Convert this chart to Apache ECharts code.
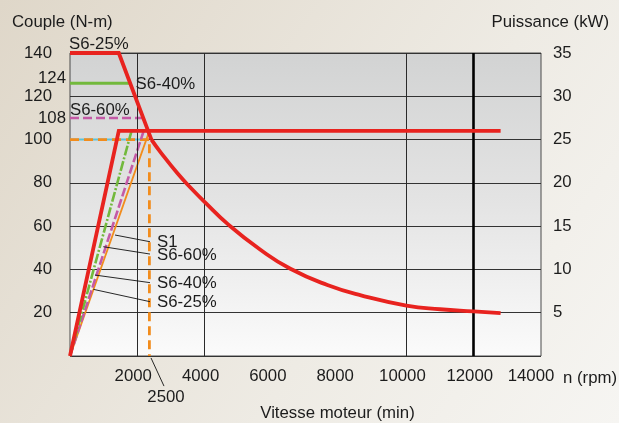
<!DOCTYPE html>
<html><head><meta charset="utf-8">
<script src="https://cdn.jsdelivr.net/npm/echarts@6/dist/echarts.min.js"></script>
<style>html,body{margin:0;padding:0;}#c{width:619px;height:423px;}</style>
</head><body><div id="c"></div>
<script>
// ---------- data ----------
const rpmTicks = [2000, 4000, 6000, 8000, 10000, 12000, 14000];
const torqueTicks = [20, 40, 60, 80, 100, 120, 140];
const powerTicks = [5, 10, 15, 20, 25, 30, 35];

// S6-25% torque: constant part + ramp, then the falling curve
const s625TorqueRpm = [0, 1450, 2420];
const s625TorqueNm  = [140, 140, 100];
const s625CurveRpm  = [2420, 2700, 3200, 3600, 4000, 4700, 5650, 6550, 7650, 8650, 10000, 11000, 12000, 12800];
const s625CurveNm   = [100, 94, 84.3, 77.5, 71.2, 60.8, 49.2, 40.3, 32.8, 28, 23.3, 21.6, 20.6, 19.8];
const s625PowerRpm = [0, 1450, 12800];
const s625PowerKw  = [0, 26, 26];

const s640TorqueRpm = [0, 1770];
const s640TorqueNm  = [126, 126];
const s640PowerRpm  = [0, 1830];
const s640PowerKw   = [0, 26];

const s660TorqueRpm = [0, 2160];
const s660TorqueNm  = [110, 110];
const s660PowerRpm  = [0, 2190];
const s660PowerKw   = [0, 26];

const s1TorqueRpm = [0, 2250];
const s1TorqueNm  = [100, 100];
const s1DashRpm   = [0, 2360, 2360];
const s1DashNm    = [100, 100, 0];
const s1PowerRpm  = [0, 2360];
const s1PowerKw   = [0, 26];

const gridRpm = [2000, 4000, 10000];
const boldGridRpm = [12000];

const leaderNames   = ['S1', 'S6-60%', 'S6-40%', 'S6-25%'];
const leaderFromRpm = [1338, 990, 743, 693];
const leaderFromNm  = [55.9, 50.5, 37.4, 30.8];
const leaderToRpm   = [2378, 2378, 2378, 2378];
const leaderToNm    = [52.8, 47.1, 33.9, 25.1];

const speedMarkLabel = '2500';
const speedMarkFrom = [2408, -0.9];
const speedMarkTo = [2794, -13.9];

const levelLabels = ['124', '108'];
const levelNm = [126, 110];

// ---------- chart ----------
const FONT = '"Liberation Sans", Arial, Helvetica, sans-serif';
const FS = 16.8;
const TXT = '#1c1c1c';
const RED = '#e8231f', GREEN = '#72b93c', MAG = '#c45aa6', ORANGE = '#f28c1c', CYAN = '#5cc2d8';
const zip = (a, b) => a.map((v, i) => [v, b[i]]);

const chart = echarts.init(document.getElementById('c'), null, {renderer: 'canvas'});

function lineSeries(name, data, color, width, type, yIdx, z) {
  return {
    name, type: 'line', data, yAxisIndex: yIdx || 0, symbol: 'none', silent: true,
    lineStyle: {color, width, type: type || 'solid', cap: 'butt', join: 'miter'}, z: z || 2, animation: false
  };
}

const curve = lineSeries('S6-25% couple courbe', zip(s625CurveRpm, s625CurveNm), RED, 3.8, 'solid', 0, 6);
curve.smooth = 0.5;
curve.lineStyle.join = 'round';

const series = [
  lineSeries('S1 couple', zip(s1TorqueRpm, s1TorqueNm), CYAN, 2, 'solid', 0, 2),
  lineSeries('S1 couple tirets', zip(s1DashRpm, s1DashNm), ORANGE, 2.8, [9, 5], 0, 3),
  lineSeries('S1 puissance', zip(s1PowerRpm, s1PowerKw), ORANGE, 1.8, 'solid', 1, 3),
  lineSeries('S6-60% couple', zip(s660TorqueRpm, s660TorqueNm), MAG, 2.6, [9, 4], 0, 4),
  lineSeries('S6-60% puissance', zip(s660PowerRpm, s660PowerKw), MAG, 2.6, [9, 3], 1, 4),
  lineSeries('S6-40% couple', zip(s640TorqueRpm, s640TorqueNm), GREEN, 3, 'solid', 0, 5),
  lineSeries('S6-40% puissance', zip(s640PowerRpm, s640PowerKw), GREEN, 2.6, [10, 2, 2, 2], 1, 5),
  lineSeries('S6-25% puissance', zip(s625PowerRpm, s625PowerKw), RED, 3.8, 'solid', 1, 6),
  lineSeries('S6-25% couple', zip(s625TorqueRpm, s625TorqueNm), RED, 3.8, 'solid', 0, 6),
  curve,
  {
    type: 'line', data: [], symbol: 'none', silent: true, z: 1,
    markLine: {
      silent: true, symbol: 'none', label: {show: false}, animation: false,
      data: gridRpm.map(v => ({xAxis: v, lineStyle: {color: '#2a2a2a', width: 1, type: 'solid'}}))
        .concat(boldGridRpm.map(v => ({xAxis: v, lineStyle: {color: '#000', width: 2.6, type: 'solid'}})))
    }
  }
];
leaderNames.forEach((n, i) => {
  series.push(lineSeries('leader ' + n, [[leaderFromRpm[i], leaderFromNm[i]], [leaderToRpm[i], leaderToNm[i]]], '#111', 0.9, 'solid', 0, 7));
});
const sm = lineSeries('leader 2500', [speedMarkFrom, speedMarkTo], '#111', 0.9, 'solid', 0, 7);
sm.clip = false;
series.push(sm);

const axisLabelBase = {fontFamily: FONT, fontSize: FS, color: TXT};

chart.setOption({
  animation: false,
  backgroundColor: {
    type: 'linear', x: 0, y: 0, x2: 1, y2: 1,
    colorStops: [{offset: 0, color: '#dfd7c9'}, {offset: 0.6, color: '#eeebe4'}, {offset: 1, color: '#f6f5f2'}]
  },
  grid: {
    left: 70, right: 78, top: 53, bottom: 67, show: true,
    borderColor: '#4a4a4a', borderWidth: 1,
    backgroundColor: {
      type: 'linear', x: 0, y: 0, x2: 0, y2: 1,
      colorStops: [{offset: 0, color: '#d2d3d3'}, {offset: 0.5, color: '#e4e4e4'}, {offset: 1, color: '#fbfbfb'}]
    }
  },
  xAxis: {
    type: 'value', min: 0, max: 14000, interval: 2000,
    axisLine: {show: false}, axisTick: {show: false}, splitLine: {show: false},
    axisLabel: Object.assign({}, axisLabelBase, {
      margin: 12,
      formatter: v => rpmTicks.indexOf(v) < 0 ? '' : (v === 14000 ? '{last|' + v + '}' : '{n|' + v + '}'),
      rich: {
        n: {fontFamily: FONT, fontSize: FS, color: TXT, padding: [0, 8, 0, 0]},
        last: {fontFamily: FONT, fontSize: FS, color: TXT, padding: [0, 20, 0, 0]}
      }
    })
  },
  yAxis: [
    {
      type: 'value', min: 0, max: 140, interval: 20, position: 'left',
      axisLine: {show: false}, axisTick: {show: false},
      splitLine: {show: true, lineStyle: {color: '#333', width: 1}},
      axisLabel: Object.assign({}, axisLabelBase, {
        margin: 18, padding: [3, 0, 0, 0], formatter: v => torqueTicks.indexOf(v) < 0 ? '' : String(v)
      })
    },
    {
      type: 'value', min: 0, max: 35, interval: 5, position: 'right',
      axisLine: {show: false}, axisTick: {show: false}, splitLine: {show: false},
      axisLabel: Object.assign({}, axisLabelBase, {
        margin: 12, formatter: v => powerTicks.indexOf(v) < 0 ? '' : String(v)
      })
    }
  ],
  series
});

// ---------- text annotations placed through the axes ----------
const px = (x, y) => chart.convertToPixel({xAxisIndex: 0, yAxisIndex: 0}, [x, y]);
function txt(text, p, align, dx, dy) {
  return {
    type: 'text', x: p[0] + dx, y: p[1] + dy, silent: true, z: 100,
    style: {
      text, fontFamily: FONT, fontSize: FS, fill: TXT,
      align, verticalAlign: 'middle', textAlign: align, textVerticalAlign: 'middle'
    }
  };
}
const g = [];
const pOrigin = px(0, 0), pCorner = px(14000, 140);
g.push(txt('Couple (N-m)', [12, 22], 'left', 0, 0));
g.push(txt('Puissance (kW)', [609, 22], 'right', 0, 0));
g.push(txt('n (rpm)', [pCorner[0], pOrigin[1]], 'left', 22, 22));
g.push(txt('Vitesse moteur (min)', [(pOrigin[0] + pCorner[0]) / 2 + 32, pOrigin[1]], 'center', 0, 57));
g.push(txt(speedMarkLabel, px(speedMarkTo[0], speedMarkTo[1]), 'center', 2, 11));
g.push(txt('S6-25%', px(s625TorqueRpm[0], s625TorqueNm[0]), 'left', -1, -9));
g.push(txt('S6-40%', px(s640TorqueRpm[1], s640TorqueNm[1]), 'left', 6, 1));
g.push(txt('S6-60%', px(s660TorqueRpm[0], s660TorqueNm[0]), 'left', 0, -8));
g.push(txt(levelLabels[0], px(0, levelNm[0]), 'right', -4, -5));
g.push(txt(levelLabels[1], px(0, levelNm[1]), 'right', -4, 0));
leaderNames.forEach((n, i) => g.push(txt(n, px(leaderToRpm[i], leaderToNm[i]), 'left', 7, 1)));
chart.setOption({graphic: g});
</script></body></html>
